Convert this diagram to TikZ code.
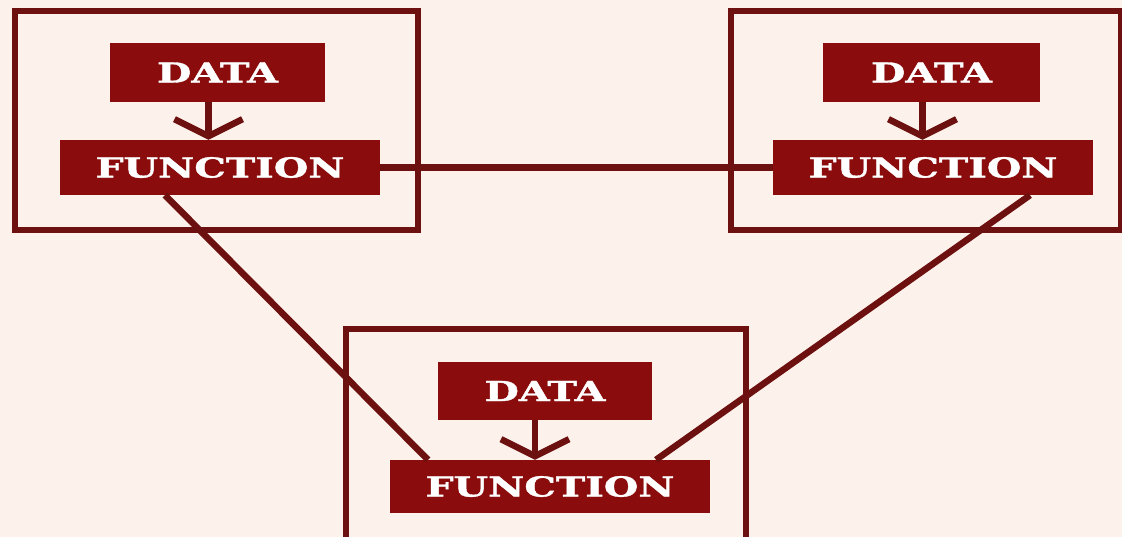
\documentclass[tikz,border=0pt]{standalone}
\usepackage{fontspec}
\newfontfamily\boxfont[FakeBold=1.2]{DejaVu Serif Bold}
\usetikzlibrary{arrows.meta}
\definecolor{bgc}{HTML}{FDF2EB}
\definecolor{boxred}{HTML}{8A0C0C}
\definecolor{linered}{HTML}{6C1010}
\tikzset{
  outerbox/.style={draw=linered, line width=6.5pt, fill=none, inner sep=0pt},
  redbox/.style={fill=boxred, draw=none, inner sep=0pt, text=white,
    font=\boxfont\fontsize{27.5}{27.5}\selectfont},
  link/.style={draw=linered, line width=6.5pt},
  flow/.style={draw=linered, line width=6.5pt,
    -{Straight Barb[length=17pt,width=68pt,line width=6.5pt]}},
}
\newcommand{\wide}[1]{\scalebox{1.44}[1]{#1}}
\begin{document}
\begin{tikzpicture}[x=1pt,y=-1pt]
\useasboundingbox (0,0) rectangle (1122,537);
\fill[bgc] (0,0) rectangle (1122,537);
\clip (0,0) rectangle (1122,537);
% outer boxes
\node[outerbox, minimum width=403pt, minimum height=219pt] (b1) at (216.5,120.5) {};
\node[outerbox, minimum width=390pt, minimum height=219pt] (b2) at (926,120.5) {};
\node[outerbox, minimum width=400pt, minimum height=222pt] (b3) at (546,440) {};
% data boxes
\node[redbox, minimum width=215pt, minimum height=59pt] (d1) at (217.5,72.5) {\wide{DATA}};
\node[redbox, minimum width=217pt, minimum height=59pt] (d2) at (931.5,72.5) {\wide{DATA}};
\node[redbox, minimum width=214pt, minimum height=58pt] (d3) at (545,391) {\wide{DATA}};
% function boxes
\node[redbox, minimum width=320pt, minimum height=55pt] (f1) at (220,167.5) {\wide{FUNCTION}};
\node[redbox, minimum width=320pt, minimum height=55pt] (f2) at (933,167.5) {\wide{FUNCTION}};
\node[redbox, minimum width=320pt, minimum height=53pt] (f3) at (550,486.5) {\wide{FUNCTION}};
% arrows
\draw[flow] ([xshift=-9pt]d1.south) -- ([xshift=-9pt]d1.south |- f1.north);
\draw[flow] ([xshift=-9pt]d2.south) -- ([xshift=-9pt]d2.south |- f2.north);
\draw[flow] ([xshift=-10pt]d3.south) -- ([xshift=-10pt]d3.south |- f3.north);
% links
\draw[link] (f1.east) -- (f2.west);
\draw[link] ([xshift=-55pt]f1.south) -- ([xshift=-122pt]f3.north);
\draw[link] ([xshift=97pt]f2.south) -- ([xshift=106pt]f3.north);
\end{tikzpicture}
\end{document}
